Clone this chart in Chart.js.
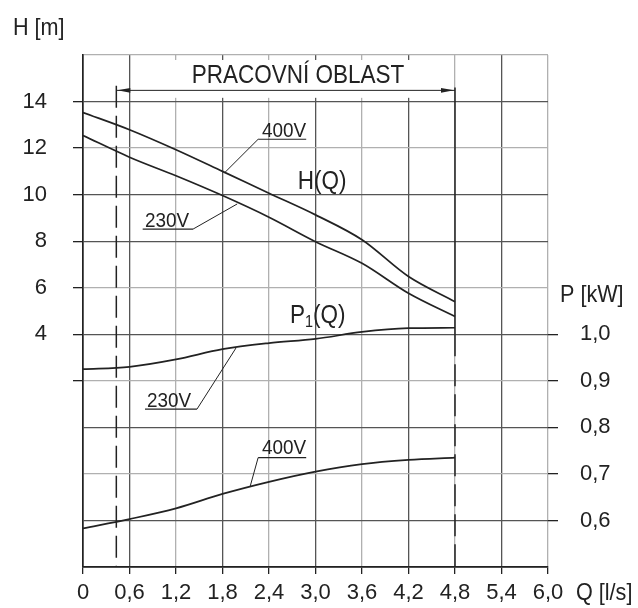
<!DOCTYPE html>
<html>
<head>
<meta charset="utf-8">
<script src="https://cdn.jsdelivr.net/npm/chart.js@4"></script>
<style>
  html, body { margin: 0; padding: 0; background: #fff; }
  canvas { display: block; }
</style>
</head>
<body>
<canvas id="chart" width="638" height="608"></canvas>
<script>
// flow Q [l/s]
const Q = [0, 0.6, 1.2, 1.8, 2.4, 3.0, 3.6, 4.2, 4.8];
// head H [m]
const H_400 = [13.53, 12.79, 11.93, 11.0, 10.06, 9.13, 8.06, 6.48, 5.4];
const H_230 = [12.54, 11.61, 10.81, 9.96, 9.03, 7.98, 7.05, 5.76, 4.76];
// power input P1 [kW]
const P_230 = [0.925, 0.930, 0.946, 0.968, 0.981, 0.990, 1.005, 1.013, 1.014];
const P_400 = [0.583, 0.603, 0.626, 0.657, 0.683, 0.705, 0.721, 0.730, 0.735];

// ticks
const Q_TICKS = [0, 0.6, 1.2, 1.8, 2.4, 3.0, 3.6, 4.2, 4.8, 5.4, 6.0];
const H_TICKS = [-6, -4, -2, 0, 2, 4, 6, 8, 10, 12, 14, 16];
const H_LABELS = [4, 6, 8, 10, 12, 14];
const P_TICKS = [0.6, 0.7, 0.8, 0.9, 1.0];

// working range
const Q_OP_MIN = 0.43;
const Q_OP_MAX = 4.8;

const FONT = 'Liberation Sans, Arial, sans-serif';
const INK = '#222';
const GRID_DARK = '#555';
const GRID_LIGHT = '#b0b0b0';
const H_LIGHT = [16, 12, 6, 2, -2];

function comma(v) {
    if (v === 0) return '0';
    return (Math.round(v * 10) / 10).toFixed(1).replace('.', ',');
}

function pts(ys) {
    return Q.map((q, i) => ({ x: q, y: ys[i] }));
}

function txt(ctx, s, x, y, size, align) {
    ctx.save();
    ctx.font = size + 'px ' + FONT;
    ctx.fillStyle = INK;
    ctx.textBaseline = 'alphabetic';
    ctx.textAlign = align || 'left';
    ctx.translate(x, y);
    ctx.scale(0.9, 1);
    ctx.fillText(s, 0, 0);
    ctx.restore();
}

function line(ctx, x1, y1, x2, y2, w) {
    ctx.beginPath();
    ctx.lineWidth = w || 1;
    ctx.moveTo(x1, y1);
    ctx.lineTo(x2, y2);
    ctx.stroke();
}

const annotations = {
    id: 'annotations',
    beforeDatasetsDraw(chart) {
        const { ctx, chartArea: a, scales: { x, y } } = chart;
        ctx.save();
        ctx.strokeStyle = INK;
        ctx.fillStyle = INK;

        // white band behind the title
        const bx1 = x.getPixelForValue(0.62), bx2 = x.getPixelForValue(4.77);
        const by2 = y.getPixelForValue(14.16);
        ctx.fillStyle = '#fff';
        ctx.fillRect(bx1, a.top + 5, bx2 - bx1, by2 - a.top - 5);
        ctx.fillStyle = INK;

        // arrow for working range
        const xl = x.getPixelForValue(Q_OP_MIN), xr = x.getPixelForValue(Q_OP_MAX);
        const ya = y.getPixelForValue(14.48);
        line(ctx, xl, ya, xr, ya, 1);
        ctx.beginPath();
        ctx.moveTo(xl + 1, ya); ctx.lineTo(xl + 14, ya - 2.3); ctx.lineTo(xl + 14, ya + 2.3); ctx.closePath(); ctx.fill();
        ctx.beginPath();
        ctx.moveTo(xr - 1, ya); ctx.lineTo(xr - 14, ya - 2.3); ctx.lineTo(xr - 14, ya + 2.3); ctx.closePath(); ctx.fill();

        txt(ctx, 'PRACOVNÍ OBLAST', x.getPixelForValue(2.775), y.getPixelForValue(14.81), 25, 'center');

        // left dashed limit
        ctx.setLineDash([22, 8]);
        line(ctx, xl, y.getPixelForValue(14.68), xl, a.bottom, 1.5);
        // right limit: solid above, dashed below
        const yMid = y.getPixelForValue(4);
        line(ctx, xr, yMid, xr, a.bottom, 1.5);
        ctx.setLineDash([]);
        line(ctx, xr, y.getPixelForValue(14.6), xr, yMid, 1.5);
        ctx.restore();
    },
    afterDatasetsDraw(chart) {
        const { ctx, chartArea: a, scales: { x, y, y2 } } = chart;
        ctx.save();
        ctx.strokeStyle = INK;

        // 400V head label
        txt(ctx, '400V', x.getPixelForValue(2.31), y.getPixelForValue(12.49), 21);
        line(ctx, x.getPixelForValue(2.26), y.getPixelForValue(12.38), x.getPixelForValue(2.88), y.getPixelForValue(12.38), 1.2);
        line(ctx, x.getPixelForValue(2.26), y.getPixelForValue(12.38), x.getPixelForValue(1.83), y.getPixelForValue(10.95), 1);

        // 230V head label
        txt(ctx, '230V', x.getPixelForValue(0.80), y.getPixelForValue(8.63), 21);
        line(ctx, x.getPixelForValue(0.77), y.getPixelForValue(8.52), x.getPixelForValue(1.42), y.getPixelForValue(8.52), 1.2);
        line(ctx, x.getPixelForValue(1.42), y.getPixelForValue(8.52), x.getPixelForValue(1.99), y.getPixelForValue(9.6), 1);

        txt(ctx, 'H(Q)', x.getPixelForValue(2.77), y.getPixelForValue(10.25), 25);

        // P1(Q) with subscript
        const px = x.getPixelForValue(2.67), py = y2.getPixelForValue(1.024);
        ctx.font = '25px ' + FONT;
        const wP = ctx.measureText('P').width * 0.9;
        ctx.font = '16px ' + FONT;
        const w1 = ctx.measureText('1').width * 0.9;
        txt(ctx, 'P', px, py, 25);
        txt(ctx, '1', px + wP, py + 4, 16);
        txt(ctx, '(Q)', px + wP + w1, py, 25);

        // 230V power label
        txt(ctx, '230V', x.getPixelForValue(0.826), y2.getPixelForValue(0.844), 21);
        line(ctx, x.getPixelForValue(0.80), y2.getPixelForValue(0.839), x.getPixelForValue(1.47), y2.getPixelForValue(0.839), 1.2);
        line(ctx, x.getPixelForValue(1.47), y2.getPixelForValue(0.839), x.getPixelForValue(1.974), y2.getPixelForValue(0.9705), 1);

        // 400V power label
        txt(ctx, '400V', x.getPixelForValue(2.31), y2.getPixelForValue(0.743), 21);
        line(ctx, x.getPixelForValue(2.26), y2.getPixelForValue(0.735), x.getPixelForValue(2.88), y2.getPixelForValue(0.735), 1.2);
        line(ctx, x.getPixelForValue(2.26), y2.getPixelForValue(0.735), x.getPixelForValue(2.155), y2.getPixelForValue(0.672), 1);

        // axis titles
        txt(ctx, 'H [m]', a.left - 70, a.top - 20, 24);
        txt(ctx, 'P [kW]', a.right + 12, y2.getPixelForValue(1.069), 24);
        txt(ctx, 'Q [l/s]', a.right + 28, a.bottom + 33, 24);
        ctx.restore();
    }
};

const curve = { borderColor: INK, borderWidth: 1.7, pointRadius: 0, cubicInterpolationMode: 'monotone', fill: false };
const tickFont = { family: FONT, size: 22 };

new Chart(document.getElementById('chart'), {
    type: 'line',
    data: {
        datasets: [
            { ...curve, label: 'H 400V', data: pts(H_400), yAxisID: 'y' },
            { ...curve, label: 'H 230V', data: pts(H_230), yAxisID: 'y' },
            { ...curve, label: 'P1 230V', data: pts(P_230), yAxisID: 'y2' },
            { ...curve, label: 'P1 400V', data: pts(P_400), yAxisID: 'y2' }
        ]
    },
    options: {
        responsive: false,
        animation: false,
        devicePixelRatio: 1,
        layout: { padding: { top: 55, left: 0, right: 0, bottom: 0 } },
        plugins: { legend: { display: false }, tooltip: { enabled: false } },
        scales: {
            x: {
                type: 'linear', min: 0, max: 6,
                afterBuildTicks: s => { s.ticks = Q_TICKS.map(v => ({ value: v })); },
                afterFit: s => { s.height = 41; },
                grid: {
                    color: c => (c.index % 2 === 0 ? GRID_LIGHT : GRID_DARK),
                    lineWidth: 1.3,
                    tickLength: 7,
                    tickColor: INK
                },
                border: { color: INK, width: 1.7 },
                ticks: {
                    autoSkip: false, maxRotation: 0, padding: 6,
                    color: INK, font: tickFont,
                    callback: v => comma(v)
                }
            },
            y: {
                type: 'linear', position: 'left', min: -6, max: 16,
                afterBuildTicks: s => { s.ticks = H_TICKS.map(v => ({ value: v })); },
                afterFit: s => { s.width = 83; },
                grid: {
                    color: c => (H_LIGHT.includes(c.tick.value) ? GRID_LIGHT : GRID_DARK),
                    lineWidth: 1.3,
                    tickLength: 10,
                    tickColor: c => (c.tick.value >= 2 && c.tick.value <= 14 ? INK : 'rgba(0,0,0,0)')
                },
                border: { color: INK, width: 1.7 },
                ticks: {
                    autoSkip: false, padding: 26,
                    color: INK, font: tickFont,
                    callback: v => (H_LABELS.includes(v) ? String(v) : '')
                }
            },
            y2: {
                type: 'linear', position: 'right', min: 0.5, max: 1.6,
                afterBuildTicks: s => { s.ticks = P_TICKS.map(v => ({ value: v })); },
                afterFit: s => { s.width = 90; },
                grid: {
                    drawOnChartArea: false,
                    lineWidth: 1.3,
                    tickLength: 10,
                    color: INK
                },
                border: { display: false },
                ticks: {
                    autoSkip: false, padding: 22,
                    color: INK, font: tickFont,
                    callback: v => comma(v)
                }
            }
        }
    },
    plugins: [annotations]
});
</script>
</body>
</html>
